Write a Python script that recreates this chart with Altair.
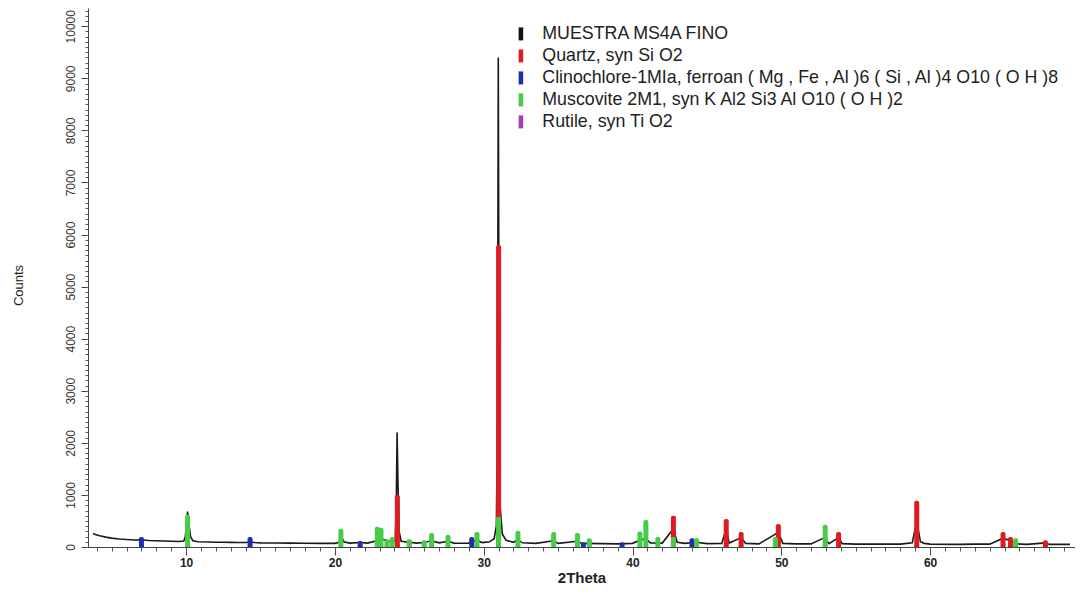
import altair as alt
import pandas as pd

pattern_2theta = [3.75, 3.9, 4.2, 4.6, 5.0, 5.5, 6.0, 6.5, 7.0, 7.5, 8.0, 8.5, 9.0, 9.5, 9.85, 9.95,
                  10.05, 10.1, 10.2, 10.3, 10.45, 10.8, 11.5, 12.0, 12.5, 13.0, 13.5, 14.0, 14.3, 14.6,
                  15.0, 16.0, 17.0, 18.0, 19.0, 20.0, 20.3, 20.45, 20.6, 21.0, 21.7, 22.2, 22.8, 23.0,
                  23.2, 23.6, 23.9, 24.05, 24.13, 24.18, 24.24, 24.32, 24.45, 25.0, 25.5, 26.0, 26.5,
                  27.0, 27.6, 28.0, 28.5, 29.0, 29.5, 29.9, 30.4, 30.7, 30.85, 30.93, 30.98, 31.03,
                  31.1, 31.25, 31.5, 32.0, 32.3, 32.6, 33.5, 34.7, 35.0, 36.3, 36.6, 38.0, 39.0, 40.0,
                  40.5, 40.9, 41.2, 42.0, 42.75, 43.0, 43.5, 44.3, 45.0, 46.0, 46.3, 46.5, 47.3, 47.6,
                  48.5, 49.8, 50.1, 51.0, 52.0, 52.9, 53.2, 53.85, 54.1, 55.0, 56.0, 57.0, 58.0, 58.8,
                  59.1, 59.35, 59.6, 60.0, 62.0, 63.0, 64.0, 64.9, 65.4, 65.8, 66.5, 67.75, 68.0, 69.4]
pattern_counts = [260, 240, 215, 190, 170, 155, 145, 135, 140, 125, 120, 115, 110, 105, 115, 200,
                  520, 680, 420, 200, 120, 100, 95, 92, 90, 88, 85, 85, 95, 85,
                  80, 78, 75, 72, 70, 70, 90, 200, 100, 75, 85, 75, 120, 250,
                  150, 110, 120, 110, 900, 2200, 1200, 300, 110, 90, 75, 85, 120,
                  80, 110, 75, 72, 75, 130, 85, 100, 160, 400, 2500, 9400, 4000,
                  800, 250, 130, 90, 140, 80, 70, 120, 70, 110, 70, 65, 60, 70,
                  130, 160, 80, 75, 350, 90, 70, 90, 65, 70, 350, 75, 180, 70,
                  60, 280, 70, 60, 60, 180, 65, 180, 65, 55, 55, 55, 55, 80,
                  500, 100, 70, 55, 50, 55, 55, 170, 120, 60, 50, 80, 50, 50]

# Reference phase peaks
quartz_pos = [24.2, 31.0, 42.75, 46.3, 47.3, 49.8, 53.85, 59.1, 64.9, 65.4, 67.75]
quartz_int = [1000, 5800, 600, 540, 290, 440, 290, 890, 290, 190, 130]
clino_pos = [7.0, 14.3, 21.7, 29.2, 36.7, 39.3, 44.0]
clino_int = [190, 190, 115, 190, 90, 90, 170]
musc_pos = [10.1, 20.4, 22.85, 23.1, 23.5, 23.85, 25.0, 26.0, 26.5, 27.6, 29.55, 31.0, 32.3, 34.7,
            36.3, 37.1, 40.5, 40.9, 41.7, 42.75, 44.3, 49.6, 52.95, 65.75]
musc_int = [620, 350, 390, 370, 150, 190, 150, 130, 270, 230, 290, 580, 310, 290,
            270, 170, 300, 520, 190, 190, 170, 190, 425, 170]
rutile_pos = []
rutile_int = []

names = ["MUESTRA MS4A FINO",
         "Quartz, syn Si O2",
         "Clinochlore-1MIa, ferroan ( Mg , Fe , Al )6 ( Si , Al )4 O10 ( O H )8",
         "Muscovite 2M1, syn K Al2 Si3 Al O10 ( O H )2",
         "Rutile, syn Ti O2"]
colors = ["#111111", "#e01a22", "#1c2fae", "#46cc46", "#a23fb8"]

pattern = pd.DataFrame({"t": pattern_2theta, "c": pattern_counts})
peaks = pd.concat([
    pd.DataFrame({"t": quartz_pos, "c": quartz_int, "phase": names[1]}),
    pd.DataFrame({"t": clino_pos, "c": clino_int, "phase": names[2]}),
    pd.DataFrame({"t": musc_pos, "c": musc_int, "phase": names[3]}),
], ignore_index=True)

x_major = list(range(10, 70, 10))
x_minor = list(range(4, 70))
y_major = list(range(0, 10001, 1000))
y_minor = list(range(0, 10301, 100))

xscale = alt.Scale(domain=[3.745, 69.4], nice=False, zero=False)
yscale = alt.Scale(domain=[0, 10350], nice=False)

xaxis = alt.Axis(title="2Theta", values=x_major, format="d", orient="bottom",
                 tickSize=8, labelPadding=2, labelFontSize=12, labelColor="#222",
                 labelFontWeight="bold", labelFlush=False,
                 titleFontSize=15, titleFontWeight="bold", titleColor="#222",
                 titleY=35, titleBaseline="alphabetic",
                 grid=False, domainColor="#444", tickColor="#444")
xaxis_minor = alt.Axis(title=None, values=x_minor, orient="bottom", labels=False,
                       domain=False, tickSize=4, grid=False, tickColor="#555")
yaxis = alt.Axis(title="Counts", values=y_major, format="d", orient="left",
                 labelAngle=-90, labelAlign="center", labelBaseline="bottom",
                 tickSize=7, labelPadding=4, labelFontSize=12, labelColor="#333",
                 labelFlush=False,
                 titleFontSize=13, titleFontWeight="normal", titleColor="#222",
                 titleAngle=-90, titleX=-70, titleY=277, titleAlign="center",
                 titleBaseline="middle",
                 grid=False, domainColor="#444", tickColor="#444")
yaxis_minor = alt.Axis(title=None, values=y_minor, orient="left", labels=False,
                       domain=False, tickSize=3, grid=False, tickColor="#555")

line = alt.Chart(pattern).mark_line(color="#1a1a1a", strokeWidth=1.6, clip=True).encode(
    x=alt.X("t:Q", scale=xscale, axis=xaxis),
    y=alt.Y("c:Q", scale=yscale, axis=yaxis),
)

bars = alt.Chart(peaks).mark_bar(size=5, cornerRadiusTopLeft=2, cornerRadiusTopRight=2,
                                 clip=True).encode(
    x=alt.X("t:Q", scale=xscale, axis=xaxis_minor),
    y=alt.Y("c:Q", scale=yscale, axis=yaxis_minor, stack=None),
    color=alt.Color("phase:N", scale=alt.Scale(domain=names, range=colors),
                    legend=alt.Legend(title=None, orient="none", legendX=424, legendY=17,
                                      symbolType="M-0.35,-1H0.35V1H-0.35Z", symbolSize=169,
                                      symbolStrokeWidth=0, labelOffset=12.5,
                                      labelFont="Liberation Sans", labelFontSize=17.8,
                                      labelColor="#222", rowPadding=3, padding=0,
                                      labelLimit=900)),
)

chart = alt.layer(line, bars).resolve_axis(x="independent", y="independent").properties(
    width=987, height=539,
    autosize=alt.AutoSizeParams(type="none"),
    padding={"left": 80, "top": 0, "right": 0, "bottom": 37},
).configure_view(strokeWidth=0).configure_axis(
    labelFont="Liberation Sans", titleFont="Liberation Sans"
)

chart.save("out.html", embed_options={"renderer": "svg", "actions": False})
